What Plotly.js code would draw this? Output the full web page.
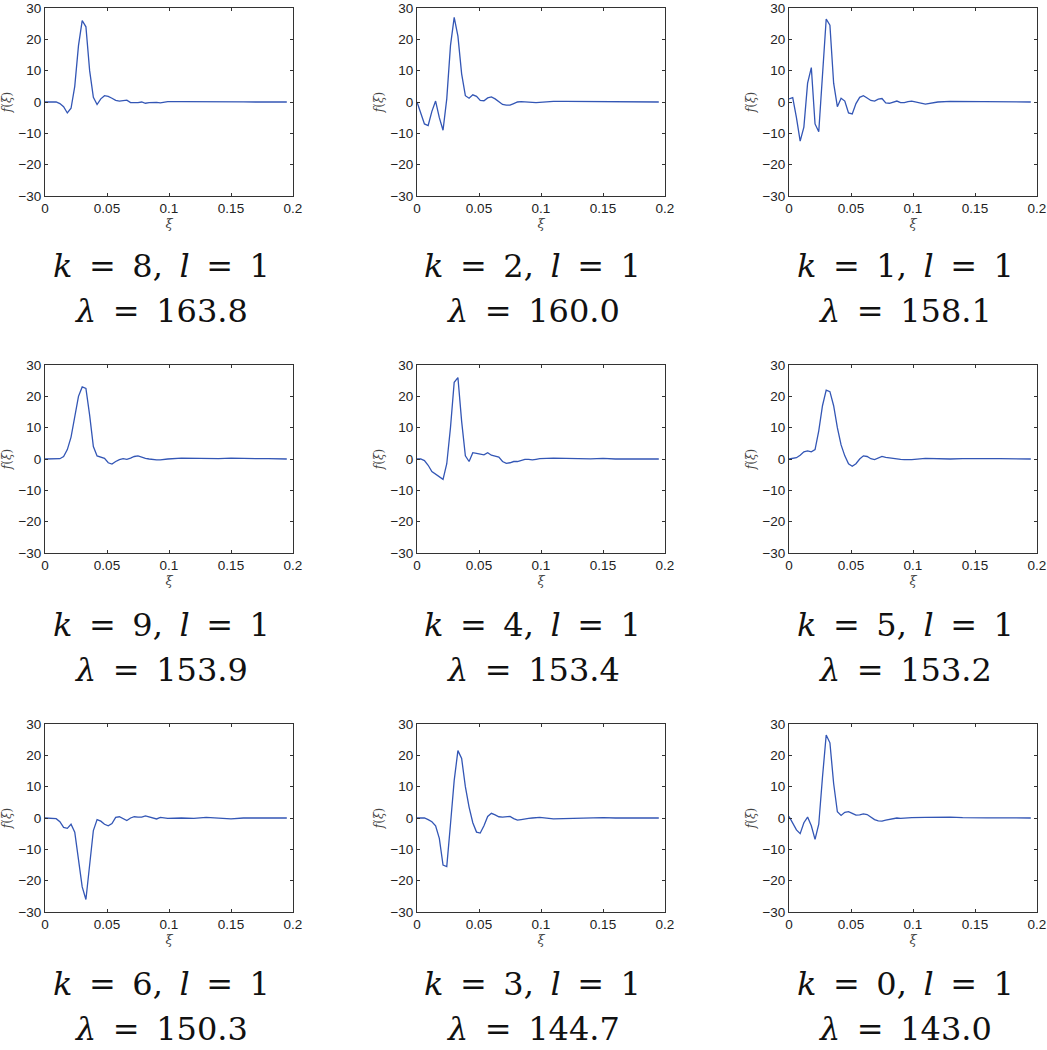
<!DOCTYPE html>
<html>
<head>
<meta charset="utf-8">
<script src="https://cdn.plot.ly/plotly-3.0.1.min.js"></script>
<style>html,body{margin:0;padding:0;background:#fff;}#chart{width:1047px;height:1050px;}</style>
</head>
<body>
<div id="chart"></div>
<script>
// shared abscissa ξ
const xi = [0, 0.003, 0.006, 0.009, 0.012, 0.015, 0.018, 0.021, 0.024, 0.027,
  0.030, 0.033, 0.036, 0.039, 0.042, 0.045, 0.048, 0.051, 0.054, 0.057,
  0.060, 0.063, 0.066, 0.069, 0.072, 0.075, 0.078, 0.081, 0.084, 0.087,
  0.090, 0.093, 0.096, 0.099, 0.11, 0.12, 0.13, 0.14, 0.15, 0.16, 0.17, 0.18, 0.19, 0.195];

const f_k8 = [0, 0, 0, 0, -0.5, -1.5, -3.5, -2, 5, 18,
  26, 24, 10, 1.5, -0.8, 1, 2, 1.8, 1.2, 0.5,
  0.3, 0.5, 0.6, -0.2, -0.3, -0.2, 0, -0.4, -0.2, -0.1,
  -0.1, -0.3, 0, 0.1, 0.1, 0.1, 0.15, 0.25, 0.2, 0.05, 0, 0, 0, 0];
const f_k2 = [0, -3.5, -7, -7.5, -3, 0.3, -5, -9, 1, 18,
  27, 21, 9, 2, 1.2, 2.3, 1.8, 0.5, 0.4, 1.3,
  1.6, 1, 0, -0.8, -1, -1, -0.5, 0, 0.1, 0.1,
  0, -0.1, -0.2, -0.1, 0.2, 0.2, 0.15, 0.1, 0.15, 0, 0.05, 0.05, 0, 0];
const f_k1 = [1, 1.4, -5, -12.5, -8, 6, 11, -7, -9.5, 8,
  26.5, 24.5, 6, -1.5, 1.2, 0.3, -3.5, -3.8, -0.5, 1.5,
  2, 1.3, 0.5, 0.3, 0.9, 1.1, -0.3, -0.4, 0, 0.3,
  -0.2, -0.2, 0.1, 0.3, -0.7, 0, 0.2, 0.2, 0.2, 0.1, 0, 0.05, 0, 0];
const f_k9 = [0, 0, 0, 0, 0.1, 0.8, 3, 7, 14, 20,
  23, 22.5, 14, 4, 1, 0.6, 0.2, -1.2, -1.6, -0.8,
  -0.2, 0.1, -0.1, 0.3, 0.8, 1, 0.5, 0.2, 0, -0.2,
  -0.3, -0.3, -0.1, 0, 0.3, 0.2, 0.05, 0.1, 0.3, 0.1, 0.1, 0.1, 0, 0];
const f_k4 = [0, 0, -0.5, -2, -4, -4.8, -5.8, -6.5, -1.5, 10,
  24.5, 26, 12, 1, -0.8, 2, 1.8, 1.5, 1.3, 2,
  1.2, 0.9, 0.6, -0.8, -1.4, -1.2, -0.8, -0.8, -0.5, -0.1,
  -0.1, -0.3, -0.1, 0.1, 0.3, 0.3, 0.1, 0.05, 0.2, 0, 0.05, 0.05, 0, 0];
const f_k5 = [0, 0.1, 0.4, 1.2, 2.3, 2.6, 2.3, 3, 9, 17,
  22, 21.5, 17, 10, 4.5, 1, -1.5, -2.3, -1.5, 0,
  1, 0.8, 0.1, -0.2, 0.4, 0.8, 0.5, 0.3, 0.1, 0,
  -0.1, -0.2, -0.3, -0.2, 0.2, 0, 0, 0.1, 0.2, 0.1, 0.1, 0.1, 0, 0];
const f_k6 = [0, 0, 0, -0.2, -1.2, -3, -3.3, -2, -4.5, -14,
  -22, -26, -14, -4, -0.5, -1, -2, -2.5, -1.8, 0.2,
  0.4, -0.2, -0.8, 0, 0.4, 0.3, 0.3, 0.7, 0.4, 0.1,
  -0.3, 0.2, 0.1, -0.1, 0, -0.1, 0.2, 0, -0.3, 0, 0, 0, 0, 0];
const f_k3 = [0, 0, 0, -0.5, -1.2, -2.5, -6.5, -15, -15.5, -2,
  12, 21.5, 19, 10, 3.5, -1.5, -4.5, -4.8, -2.5, 0.5,
  1.5, 1, 0.4, 0.3, 0.5, 0.5, -0.2, -0.7, -0.5, -0.2,
  -0.1, 0, 0.1, 0.2, -0.3, -0.2, 0, 0.2, 0.1, 0, 0.05, 0, 0, 0];
const f_k0 = [0.5, -1.5, -3.8, -5, -1.5, 0.3, -2.5, -6.8, -2, 13,
  26.5, 24, 11, 2, 0.8, 1.8, 2, 1.5, 0.9, 1,
  1.3, 1.1, 0.3, -0.5, -0.9, -1, -0.7, -0.4, -0.1, 0,
  -0.1, -0.1, 0, 0.1, 0.2, 0.3, 0.25, 0.1, 0, 0.05, 0.05, 0, 0, 0];

// panel captions (row-major)
const kVals = [8, 2, 1, 9, 4, 5, 6, 3, 0];
const lVals = [1, 1, 1, 1, 1, 1, 1, 1, 1];
const lamVals = ['163.8', '160.0', '158.1', '153.9', '153.4', '153.2', '150.3', '144.7', '143.0'];
const series = [f_k8, f_k2, f_k1, f_k9, f_k4, f_k5, f_k6, f_k3, f_k0];

const xTickVals = [0, 0.05, 0.1, 0.15, 0.2];
const xTickText = ['0', '0.05', '0.1', '0.15', '0.2'];
const yTickVals = [-30, -20, -10, 0, 10, 20, 30];

const W = 1047, H = 1050;
const colL = [45, 417, 789], plotW = 248;
const rowT = [8, 365, 724], plotH = 188;

const SANS = 'Liberation Sans';
const SERIF = 'DejaVu Serif';

const traces = [];
const layout = {
  width: W, height: H,
  margin: {l: 0, r: 0, t: 0, b: 0},
  paper_bgcolor: '#fff', plot_bgcolor: '#fff',
  showlegend: false,
  font: {family: SANS, color: '#222'},
  annotations: []
};

series.forEach((ys, i) => {
  const r = Math.floor(i / 3), c = i % 3;
  const n = i === 0 ? '' : String(i + 1);
  traces.push({
    x: xi, y: ys, type: 'scatter', mode: 'lines',
    line: {color: '#3356b5', width: 1.3},
    xaxis: 'x' + n, yaxis: 'y' + n, hoverinfo: 'skip'
  });
  const x0 = colL[c] / W, x1 = (colL[c] + plotW) / W;
  const y1 = 1 - rowT[r] / H, y0 = 1 - (rowT[r] + plotH) / H;
  const common = {
    showline: true, mirror: 'ticks', linecolor: '#333', linewidth: 1,
    ticks: 'inside', ticklen: 3, tickcolor: '#333',
    showgrid: false, zeroline: false, fixedrange: true,
    ticklabeloverflow: 'allow',
    tickfont: {size: 13.5, color: '#222', family: SANS}
  };
  layout['xaxis' + n] = Object.assign({}, common, {
    domain: [x0, x1], anchor: 'y' + n, range: [0, 0.2],
    tickmode: 'array', tickvals: xTickVals, ticktext: xTickText,
    title: {text: '<i>ξ</i>', font: {size: 13, color: '#444', family: SERIF}, standoff: 0}
  });
  layout['yaxis' + n] = Object.assign({}, common, {
    domain: [y0, y1], anchor: 'x' + n, range: [-30, 30],
    tickmode: 'array', tickvals: yTickVals,
    title: {text: '<i>f</i>(<i>ξ</i>)', font: {size: 12, color: '#444', family: SERIF}, standoff: 4}
  });
  const cx = (colL[c] + plotW / 2 - 8) / W;
  const capFont = {family: SERIF, size: 32, color: '#111'};
  layout.annotations.push({
    xref: 'paper', yref: 'paper', x: cx, y: 1 - (5 + 359 * r + 261) / H,
    xanchor: 'center', yanchor: 'middle', showarrow: false,
    text: '<i>k</i>\u2009 = \u2009' + kVals[i] + ', \u2009<i>l</i>\u2009 = \u2009' + lVals[i],
    font: capFont
  });
  layout.annotations.push({
    xref: 'paper', yref: 'paper', x: cx, y: 1 - (5 + 359 * r + 306) / H,
    xanchor: 'center', yanchor: 'middle', showarrow: false,
    text: '<i>λ</i>\u2009 = \u2009' + lamVals[i],
    font: capFont
  });
});

Plotly.newPlot('chart', traces, layout, {staticPlot: true, displayModeBar: false});
</script>
</body>
</html>
